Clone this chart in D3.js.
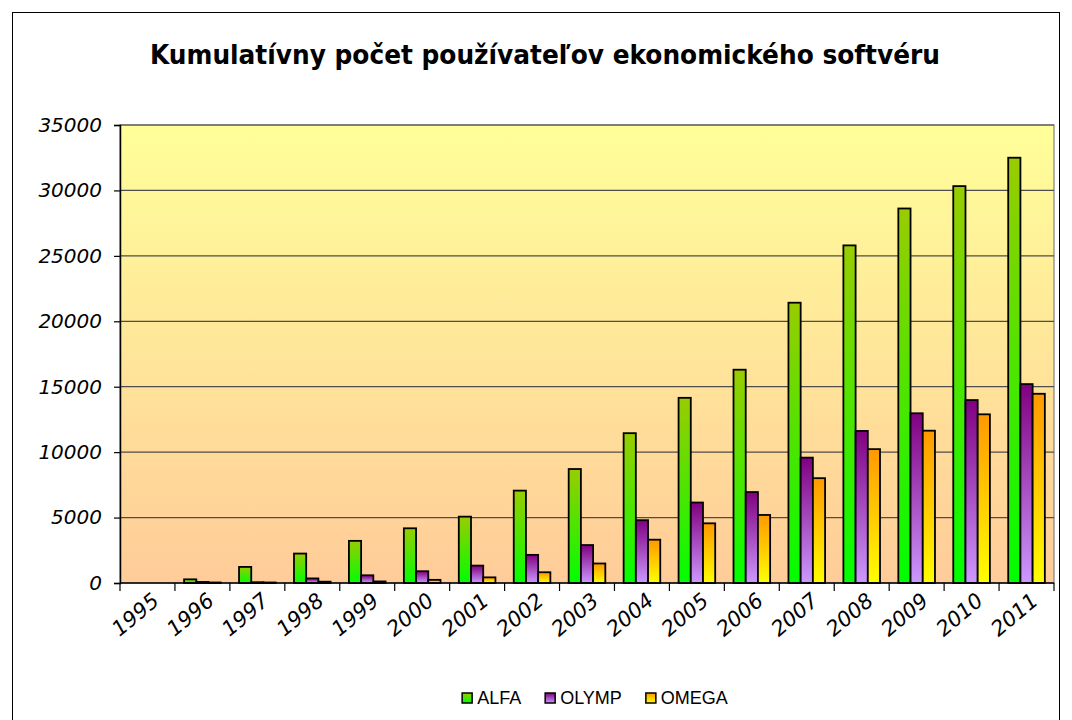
<!DOCTYPE html>
<html>
<head>
<meta charset="utf-8">
<script src="https://cdn.jsdelivr.net/npm/d3@7"></script>
<style>
  body { margin: 0; background: #fff; }
  svg { display: block; }
</style>
</head>
<body>
<div id="chart"></div>
<script>
// data
const years = ["1995", "1996", "1997", "1998", "1999", "2000", "2001", "2002", "2003",
  "2004", "2005", "2006", "2007", "2008", "2009", "2010", "2011"];
const seriesNames = ["ALFA", "OLYMP", "OMEGA"];
const alfa = [0, 280, 1230, 2250, 3220, 4180, 5070, 7060, 8710, 11450, 14150, 16300, 21420, 25800, 28620, 30330, 32500];
const olymp = [0, 80, 60, 350, 590, 900, 1330, 2150, 2900, 4800, 6150, 6950, 9580, 11620, 12970, 13980, 15200];
const omega = [0, 40, 40, 100, 120, 240, 430, 820, 1490, 3310, 4560, 5200, 8010, 10230, 11640, 12890, 14460];
const yTicks = [0, 5000, 10000, 15000, 20000, 25000, 30000, 35000];
const title = "Kumulatívny počet používateľov ekonomického softvéru";

const W = 1072, H = 720;
const plot = { left: 120, right: 1054, top: 125, bottom: 583 };

const svg = d3.select("#chart").append("svg")
    .attr("width", W)
    .attr("height", H);

const defs = svg.append("defs");

function addGradient(id, top, bottom) {
  let g = defs.append("linearGradient")
      .attr("id", id)
      .attr("x1", 0).attr("y1", 0).attr("x2", 0).attr("y2", 1);
  g.append("stop").attr("offset", "0%").attr("stop-color", top);
  g.append("stop").attr("offset", "100%").attr("stop-color", bottom);
}
addGradient("bg", "#ffff99", "#ffcc99");
addGradient("g-ALFA", "#99cc00", "#00ff00");
addGradient("g-OLYMP", "#800080", "#cc99ff");
addGradient("g-OMEGA", "#ff9900", "#ffff00");

// outer chart border
svg.append("rect")
    .attr("x", 12.5).attr("y", 12.5)
    .attr("width", 1047).attr("height", 730)
    .attr("fill", "#fff")
    .attr("stroke", "#000")
    .attr("stroke-width", 1);

// title
svg.append("text")
    .attr("x", 545)
    .attr("y", 64)
    .attr("text-anchor", "middle")
    .attr("font-family", "Tahoma, 'DejaVu Sans Condensed', 'DejaVu Sans', sans-serif")
    .attr("font-weight", "bold")
    .attr("font-size", "26px")
    .attr("textLength", 790)
    .attr("lengthAdjust", "spacingAndGlyphs")
    .text(title);

// scales
const x0 = d3.scaleBand()
    .domain(years)
    .range([plot.left, plot.right])
    .paddingInner(0)
    .paddingOuter(0);

const x1 = d3.scaleBand()
    .domain(seriesNames)
    .range([0, x0.bandwidth()])
    .paddingInner(0)
    .paddingOuter(0.75);

const y = d3.scaleLinear()
    .domain([0, 35000])
    .range([plot.bottom, plot.top]);

// plot background
svg.append("rect")
    .attr("x", plot.left).attr("y", plot.top)
    .attr("width", plot.right - plot.left)
    .attr("height", plot.bottom - plot.top)
    .attr("fill", "url(#bg)")
    .attr("stroke", "#808080")
    .attr("stroke-width", 1.2);

// gridlines
svg.append("g")
    .selectAll("line")
    .data(yTicks.filter(d => d > 0))
    .enter().append("line")
    .attr("x1", plot.left).attr("x2", plot.right)
    .attr("y1", d => y(d)).attr("y2", d => y(d))
    .attr("stroke", "#4d4d4d")
    .attr("stroke-width", 1.2);

// bars
const table = years.map((yr, i) => ({
  year: yr,
  ALFA: alfa[i],
  OLYMP: olymp[i],
  OMEGA: omega[i]
}));

const groups = svg.append("g").selectAll("g")
    .data(table)
    .enter().append("g")
    .attr("transform", d => `translate(${x0(d.year)},0)`);

groups.selectAll("rect")
    .data(d => seriesNames.map(k => ({ key: k, value: d[k] })).filter(e => e.value > 0))
    .enter().append("rect")
    .attr("x", d => x1(d.key))
    .attr("y", d => y(d.value))
    .attr("width", x1.bandwidth())
    .attr("height", d => y(0) - y(d.value))
    .attr("fill", d => `url(#g-${d.key})`)
    .attr("stroke", "#000")
    .attr("stroke-width", 1.8);

// y axis
const yAxis = svg.append("g")
    .attr("transform", `translate(${plot.left},0)`)
    .call(d3.axisLeft(y).tickValues(yTicks).tickSize(6).tickPadding(12).tickFormat(d3.format("d")));
yAxis.select(".domain").attr("stroke", "#000").attr("stroke-width", 1.5);
yAxis.selectAll(".tick line").attr("stroke", "#000").attr("stroke-width", 1.2);
yAxis.selectAll(".tick text")
    .attr("font-family", "'DejaVu Sans', sans-serif")
    .attr("font-style", "italic")
    .attr("font-size", "20px")
    .attr("fill", "#000");

// x axis: ticks between categories
const bounds = years.map(d => x0(d)).concat([plot.right]);
const xAxis = svg.append("g");
xAxis.append("line")
    .attr("x1", plot.left).attr("x2", plot.right)
    .attr("y1", plot.bottom).attr("y2", plot.bottom)
    .attr("stroke", "#000")
    .attr("stroke-width", 1.5);
xAxis.selectAll(".xt")
    .data(bounds)
    .enter().append("line")
    .attr("class", "xt")
    .attr("x1", d => d).attr("x2", d => d)
    .attr("y1", plot.bottom).attr("y2", plot.bottom + 8)
    .attr("stroke", "#000")
    .attr("stroke-width", 1.2);
xAxis.selectAll(".xl")
    .data(years)
    .enter().append("text")
    .attr("class", "xl")
    .attr("text-anchor", "end")
    .attr("transform", d => `translate(${x0(d) + x0.bandwidth() / 2 + 13},${plot.bottom + 20}) rotate(-40)`)
    .attr("font-family", "'DejaVu Sans', sans-serif")
    .attr("font-style", "italic")
    .attr("font-size", "21px")
    .text(d => d);

// legend
const legend = svg.append("g");
let items = legend.selectAll("g")
    .data(seriesNames)
    .enter().append("g");
items.append("rect")
    .attr("width", 10).attr("height", 10)
    .attr("y", 693)
    .attr("fill", d => `url(#g-${d})`)
    .attr("stroke", "#000")
    .attr("stroke-width", 1.5);
items.append("text")
    .attr("x", 15)
    .attr("y", 704)
    .attr("font-family", "'Liberation Sans', Arial, sans-serif")
    .attr("font-size", "18px")
    .text(d => d);

let pos = 0;
const offsets = [];
items.each(function() {
  offsets.push(pos);
  let w = d3.select(this).select("text").node().getComputedTextLength();
  pos += 15 + w + 24;
});
const total = pos - 24;
const startX = 595 - total / 2;
items.attr("transform", (d, i) => `translate(${startX + offsets[i]},0)`);
</script>
</body>
</html>
